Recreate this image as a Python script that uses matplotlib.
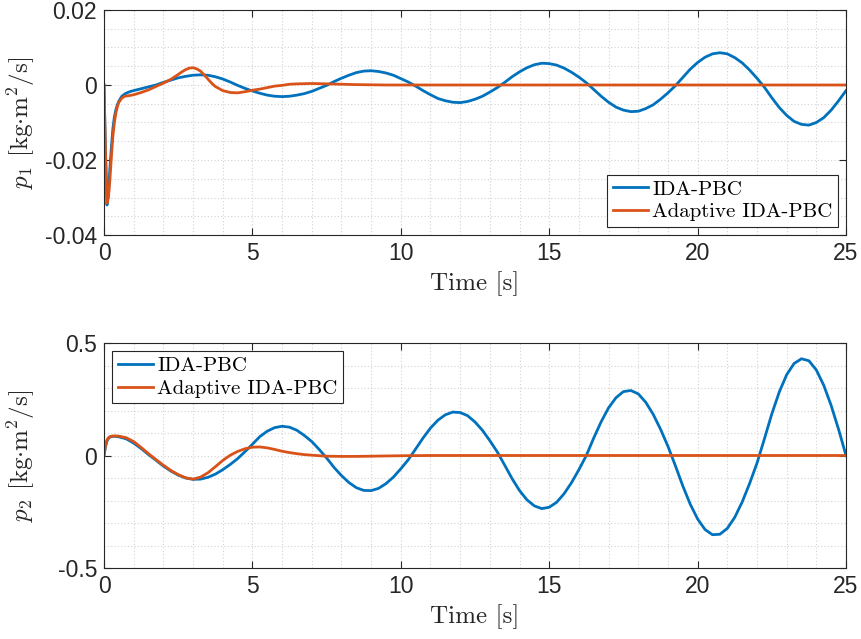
import numpy as np
import matplotlib
matplotlib.use("Agg")
import matplotlib.pyplot as plt
from matplotlib.ticker import MultipleLocator

plt.rcParams["font.family"] = ["Liberation Sans", "DejaVu Sans"]
plt.rcParams["mathtext.fontset"] = "cm"
plt.rcParams["axes.unicode_minus"] = False

BLUE = "#0072BD"
ORANGE = "#D95319"
DARK = "#262626"

# ---------------- p1 data ----------------
# IDA-PBC: fast initial transient, then 0.25 s samples from 1 s to 25 s
p1_ida_t_start = [0, 0.05, 0.1, 0.15, 0.2, 0.25, 0.3, 0.35, 0.4, 0.45,
                  0.5, 0.6, 0.7, 0.8, 0.9]
p1_ida_v_start = [0, -0.018, -0.032, -0.029, -0.022, -0.0165, -0.0115, -0.0085,
                  -0.0066, -0.0053, -0.0043, -0.0030, -0.0024, -0.0020, -0.0017]
p1_ida_v_main = [
    -0.0015, -0.0010, -0.0005, 0.0000,
    0.0007, 0.0013, 0.0019, 0.0023,
    0.0026, 0.0027, 0.0026, 0.0022,
    0.0016, 0.0008, -0.0001, -0.0009,
    -0.0016, -0.0022, -0.0027, -0.0030,
    -0.0031, -0.0030, -0.0027, -0.0023,
    -0.0017, -0.0009, -0.0001, 0.0009,
    0.0018, 0.0026, 0.0033, 0.0037,
    0.0038, 0.0036, 0.0032, 0.0026,
    0.0017, 0.0008, -0.0003, -0.0015,
    -0.0026, -0.0036, -0.0042, -0.0046,
    -0.0047, -0.0044, -0.0038, -0.0030,
    -0.0019, -0.0007, 0.0007, 0.0022,
    0.0035, 0.0046, 0.0054, 0.0058,
    0.0057, 0.0053, 0.0045, 0.0034,
    0.0021, 0.0006, -0.0012, -0.0030,
    -0.0046, -0.0059, -0.0067, -0.0071,
    -0.0070, -0.0063, -0.0053, -0.0038,
    -0.0021, -0.0002, 0.0020, 0.0042,
    0.0060, 0.0074, 0.0083, 0.0086,
    0.0083, 0.0073, 0.0059, 0.0040,
    0.0018, -0.0006, -0.0034, -0.0060,
    -0.0081, -0.0097, -0.0105, -0.0107,
    -0.0100, -0.0087, -0.0067, -0.0042,
    -0.0015,
]
# Adaptive IDA-PBC
p1_ada_t = [0, 0.05, 0.1, 0.15, 0.2, 0.25, 0.3, 0.35, 0.4, 0.45,
            0.5, 0.6, 0.7, 0.8, 1.0, 1.25, 1.5, 1.75, 2.0, 2.25,
            2.5, 2.625, 2.75, 2.875, 3.0, 3.125, 3.25, 3.375, 3.5, 3.625,
            3.75, 4.0, 4.25, 4.5, 4.75, 5.0, 5.25, 5.5, 5.75, 6.0,
            6.25, 6.5, 7.0, 7.5, 8.0, 8.5, 9.0, 9.5, 10.0, 25.0]
p1_ada_v = [0, -0.018, -0.0315, -0.030, -0.025, -0.019, -0.0135, -0.010, -0.0075, -0.0058,
            -0.0046, -0.0035, -0.0030, -0.0029, -0.0026, -0.0020, -0.0013, -0.0004, 0.0005, 0.0015,
            0.0028, 0.0035, 0.0041, 0.0045, 0.0046, 0.0043, 0.0037, 0.0027, 0.0016, 0.0005,
            -0.0004, -0.0015, -0.0020, -0.0021, -0.0018, -0.0014, -0.0011, -0.0007, -0.0003, -0.0001,
            0.0002, 0.0003, 0.0004, 0.0003, 0.0002, 0.0001, 0.00005, 0.0, 0.0, 0.0]

# ---------------- p2 data ----------------
p2_ida_t_start = [0, 0.05, 0.1, 0.15, 0.2, 0.3, 0.4, 0.5, 0.75]
p2_ida_v_start = [0, 0.040, 0.064, 0.076, 0.082, 0.085, 0.085, 0.083, 0.074]
p2_ida_v_main = [
    0.055, 0.031, 0.004, -0.021,
    -0.047, -0.069, -0.087, -0.100,
    -0.106, -0.105, -0.097, -0.083,
    -0.063, -0.040, -0.014, 0.017,
    0.050, 0.084, 0.108, 0.124,
    0.130, 0.126, 0.112, 0.089,
    0.062, 0.027, -0.011, -0.053,
    -0.089, -0.120, -0.143, -0.155,
    -0.156, -0.146, -0.125, -0.096,
    -0.059, -0.019, 0.029, 0.078,
    0.122, 0.157, 0.181, 0.193,
    0.191, 0.177, 0.149, 0.112,
    0.066, 0.016, -0.043, -0.103,
    -0.156, -0.197, -0.224, -0.236,
    -0.230, -0.208, -0.170, -0.121,
    -0.063, 0.000, 0.078, 0.150,
    0.212, 0.257, 0.284, 0.289,
    0.274, 0.237, 0.184, 0.117,
    0.041, -0.045, -0.135, -0.216,
    -0.282, -0.329, -0.352, -0.350,
    -0.324, -0.275, -0.207, -0.125,
    -0.034, 0.074, 0.185, 0.282,
    0.359, 0.409, 0.430, 0.421,
    0.380, 0.312, 0.222, 0.116,
    0.000,
]
p2_ada_t = [0, 0.05, 0.1, 0.15, 0.2, 0.3, 0.4, 0.5, 0.75, 1.0,
            1.25, 1.5, 1.75, 2.0, 2.25, 2.5, 2.75, 3.0, 3.25, 3.5,
            3.75, 4.0, 4.25, 4.5, 4.75, 5.0, 5.25, 5.5, 5.75, 6.0,
            6.25, 6.5, 6.75, 7.0, 7.25, 7.5, 8.0, 8.5, 9.0, 9.5,
            10.0, 10.5, 11.0, 25.0]
p2_ada_v = [0, 0.045, 0.069, 0.079, 0.084, 0.087, 0.087, 0.086, 0.079, 0.062,
            0.036, 0.008, -0.018, -0.043, -0.066, -0.085, -0.099, -0.105, -0.096, -0.077,
            -0.050, -0.022, 0.001, 0.018, 0.030, 0.037, 0.038, 0.034, 0.027, 0.019,
            0.013, 0.008, 0.004, 0.0015, -0.001, -0.003, -0.004, -0.004, -0.003, -0.002,
            -0.001, -0.0005, 0.0, 0.0]

# sampling grid of the steady part of the IDA-PBC traces
t_main = np.arange(1.0, 25.0 + 1e-9, 0.25)
p1_ida_t = np.concatenate([p1_ida_t_start, t_main])
p1_ida_v = np.concatenate([p1_ida_v_start, p1_ida_v_main])
p2_ida_t = np.concatenate([p2_ida_t_start, t_main])
p2_ida_v = np.concatenate([p2_ida_v_start, p2_ida_v_main])

# ---------------- axes / labels ----------------
x_ticks = [0, 5, 10, 15, 20, 25]
x_ticklabels = ["0", "5", "10", "15", "20", "25"]
p1_yticks = [-0.04, -0.02, 0, 0.02]
p1_yticklabels = ["-0.04", "-0.02", "0", "0.02"]
p2_yticks = [-0.5, 0, 0.5]
p2_yticklabels = ["-0.5", "0", "0.5"]
legend_labels = ["IDA-PBC", "Adaptive IDA-PBC"]
x_label = "Time [s]"
p1_label = r"$p_1$ [kg$\cdot$m$^2$/s]"
p2_label = r"$p_2$ [kg$\cdot$m$^2$/s]"

SERIF = ["cmr10", "DejaVu Serif"]

fig = plt.figure(figsize=(8.61, 6.39), dpi=100)
ax1 = fig.add_axes([0.1208, 0.6322, 0.8618, 0.3522])
ax2 = fig.add_axes([0.1208, 0.1111, 0.8618, 0.3521])


def style(ax, yticks, yticklabels, ylim, yminor, ylabel, legend_loc):
    ax.set_xlim(0, 25)
    ax.set_ylim(*ylim)
    ax.set_xticks(x_ticks)
    ax.set_xticklabels(x_ticklabels)
    ax.set_yticks(yticks)
    ax.set_yticklabels(yticklabels)
    ax.xaxis.set_minor_locator(MultipleLocator(1))
    ax.yaxis.set_minor_locator(MultipleLocator(yminor))
    ax.grid(which="both", linestyle=(0, (1, 2)), color="#d2d2d2", linewidth=0.8)
    ax.set_axisbelow(True)
    ax.tick_params(which="major", direction="in", length=5, width=0.8,
                   top=True, right=True, labelsize=16.5, colors=DARK, pad=5)
    ax.tick_params(which="minor", length=0)
    for s in ax.spines.values():
        s.set_color(DARK)
        s.set_linewidth(0.8)
    ax.set_xlabel(x_label, fontsize=18, family=SERIF, color=DARK)
    ax.xaxis.set_label_coords(0.5, -0.16)
    ax.set_ylabel(ylabel, fontsize=18, family=SERIF, color=DARK)
    ax.yaxis.set_label_coords(-0.09, 0.5)
    leg = ax.legend(legend_labels, loc=legend_loc, prop={"family": SERIF, "size": 15},
                    fancybox=False, framealpha=1, edgecolor=DARK,
                    borderpad=0.25, labelspacing=0.2, handlelength=1.7,
                    handletextpad=0.2, borderaxespad=0.4)
    leg.get_frame().set_linewidth(0.8)


ax1.plot(p1_ida_t, p1_ida_v, color=BLUE, lw=2.0)
ax1.plot(p1_ada_t, p1_ada_v, color=ORANGE, lw=2.0)
style(ax1, p1_yticks, p1_yticklabels, (-0.04, 0.02), 0.005, p1_label, "lower right")

ax2.plot(p2_ida_t, p2_ida_v, color=BLUE, lw=2.0)
ax2.plot(p2_ada_t, p2_ada_v, color=ORANGE, lw=2.0)
style(ax2, p2_yticks, p2_yticklabels, (-0.5, 0.5), 0.1, p2_label, "upper left")

fig.savefig("out.png", dpi=100)
